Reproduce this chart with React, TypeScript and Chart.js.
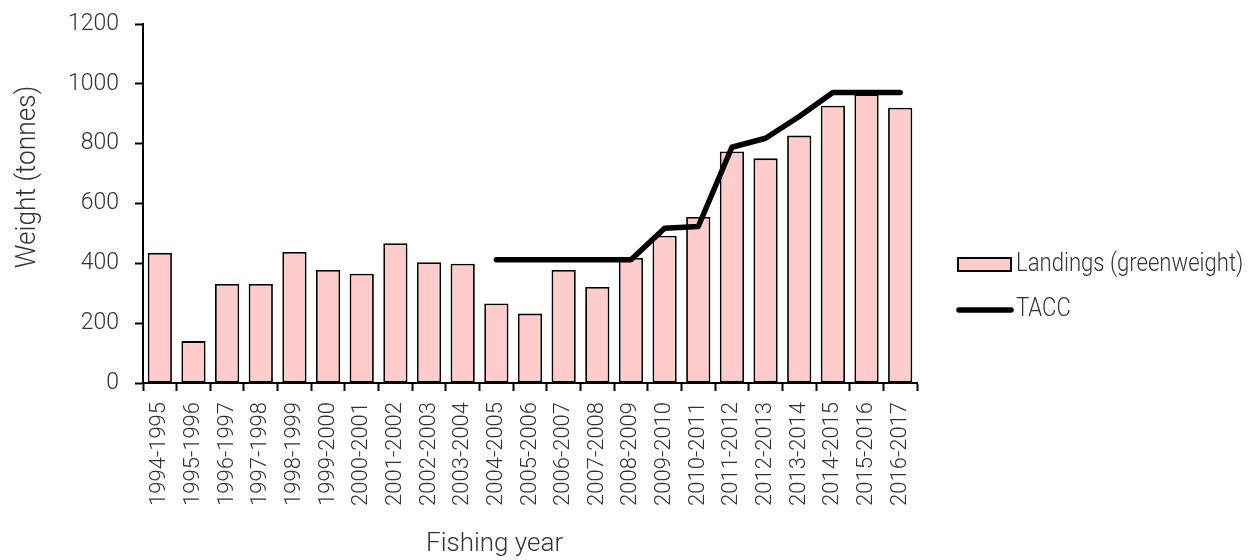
import { useEffect, useRef } from "react";
import { Chart, registerables } from "chart.js";

Chart.register(...registerables);

// Fishing years on the category axis
const fishingYears = [
  "1994-1995", "1995-1996", "1996-1997", "1997-1998", "1998-1999", "1999-2000",
  "2000-2001", "2001-2002", "2002-2003", "2003-2004", "2004-2005", "2005-2006",
  "2006-2007", "2007-2008", "2008-2009", "2009-2010", "2010-2011", "2011-2012",
  "2012-2013", "2013-2014", "2014-2015", "2015-2016", "2016-2017",
];

// Reported landings (greenweight), tonnes
const landings = [
  435, 140, 331, 331, 438, 378, 365, 467, 404, 399, 266, 232,
  378, 321, 418, 492, 555, 774, 751, 827, 927, 965, 920,
];

// Total allowable commercial catch, tonnes (set from 2004-2005)
const tacc: (number | null)[] = [
  null, null, null, null, null, null, null, null, null, null,
  412, 412, 412, 412, 412, 517, 523, 788, 818, 891, 971, 971, 971,
];

const yMin = 0;
const yMax = 1200;
const yStep = 200;

const landingsLabel = "Landings (greenweight)";
const taccLabel = "TACC";
const yTitle = "Weight (tonnes)";
const xTitle = "Fishing year";

const TEXT = "#333333";
const BAR_FILL = "#ffcccc";
const FONT = 'Roboto, "Liberation Sans", Arial, sans-serif';
const WEIGHT = 300;

// Draws text squeezed along its own direction, for a condensed look
function condensedText(
  ctx: CanvasRenderingContext2D,
  text: string,
  x: number,
  y: number,
  squeeze: number,
) {
  ctx.save();
  ctx.translate(x, y);
  ctx.scale(squeeze, 1);
  ctx.fillText(text, 0, 0);
  ctx.restore();
}

// Axis titles and the legend are painted after the chart itself
const annotations = {
  id: "annotations",
  afterDraw(chart: Chart) {
    const ctx = chart.ctx;
    ctx.save();
    ctx.fillStyle = TEXT;
    ctx.textBaseline = "alphabetic";

    // y-axis title
    ctx.save();
    ctx.font = `${WEIGHT} 28px ${FONT}`;
    ctx.translate(35, 177);
    ctx.rotate(-Math.PI / 2);
    ctx.textAlign = "center";
    condensedText(ctx, yTitle, 0, 0, 0.94);
    ctx.restore();

    // x-axis title
    ctx.font = `${WEIGHT} 26px ${FONT}`;
    ctx.textAlign = "left";
    ctx.fillText(xTitle, 426, 551);

    // legend: bar swatch
    ctx.fillStyle = BAR_FILL;
    ctx.fillRect(958, 258, 53, 13);
    ctx.strokeStyle = "#000";
    ctx.lineWidth = 2;
    ctx.strokeRect(958, 258, 53, 13);

    // legend: line swatch
    ctx.beginPath();
    ctx.lineCap = "round";
    ctx.lineWidth = 5.5;
    ctx.moveTo(959, 310);
    ctx.lineTo(1011, 310);
    ctx.stroke();

    ctx.fillStyle = TEXT;
    ctx.font = `${WEIGHT} 26px ${FONT}`;
    ctx.textAlign = "left";
    ctx.textBaseline = "middle";
    condensedText(ctx, landingsLabel, 1016, 264, 0.85);
    condensedText(ctx, taccLabel, 1016, 309, 0.85);
    ctx.restore();
  },
};

export default function App() {
  const canvasRef = useRef<HTMLCanvasElement | null>(null);

  useEffect(() => {
    document.body.style.margin = "0";
    const canvas = canvasRef.current;
    if (!canvas) return;

    const chart = new Chart(canvas, {
      type: "bar",
      data: {
        labels: fishingYears,
        datasets: [
          {
            type: "line",
            label: taccLabel,
            data: tacc,
            borderColor: "#000",
            borderWidth: 5.5,
            borderCapStyle: "round",
            borderJoinStyle: "round",
            pointRadius: 0,
            fill: false,
            tension: 0,
            spanGaps: false,
            order: 0,
          },
          {
            type: "bar",
            label: landingsLabel,
            data: landings,
            backgroundColor: BAR_FILL,
            borderColor: "#000",
            borderWidth: 1.8,
            borderSkipped: false,
            barPercentage: 0.72,
            categoryPercentage: 1,
            order: 1,
          },
        ],
      },
      options: {
        responsive: false,
        animation: false,
        devicePixelRatio: 1,
        layout: { padding: { left: 0, top: 24, right: 338, bottom: 0 } },
        plugins: {
          legend: { display: false },
          tooltip: { enabled: false },
        },
        scales: {
          x: {
            offset: true,
            grid: {
              offset: true,
              drawOnChartArea: false,
              drawTicks: true,
              tickLength: 8,
              tickWidth: 2,
              color: "#000",
            },
            border: { display: true, color: "#000", width: 2 },
            ticks: {
              autoSkip: false,
              minRotation: 90,
              maxRotation: 90,
              padding: 11,
              color: TEXT,
              font: { family: FONT, size: 22, weight: WEIGHT },
            },
            afterFit(scale: any) {
              scale.height = 177;
              scale.paddingLeft = 0;
              scale.paddingRight = 0;
            },
          },
          y: {
            min: yMin,
            max: yMax,
            grid: {
              drawOnChartArea: false,
              drawTicks: true,
              tickLength: 8,
              tickWidth: 2,
              color: "#000",
            },
            border: { display: true, color: "#000", width: 2 },
            ticks: {
              stepSize: yStep,
              padding: 16,
              color: TEXT,
              font: { family: FONT, size: 23, weight: WEIGHT },
              callback: (value: any) => String(value),
            },
            afterFit(scale: any) {
              scale.width = 143;
              scale.paddingTop = 0;
              scale.paddingBottom = 0;
            },
          },
        },
      },
      plugins: [annotations],
    });

    return () => chart.destroy();
  }, []);

  return <canvas ref={canvasRef} width={1255} height={560} style={{ display: "block" }} />;
}
